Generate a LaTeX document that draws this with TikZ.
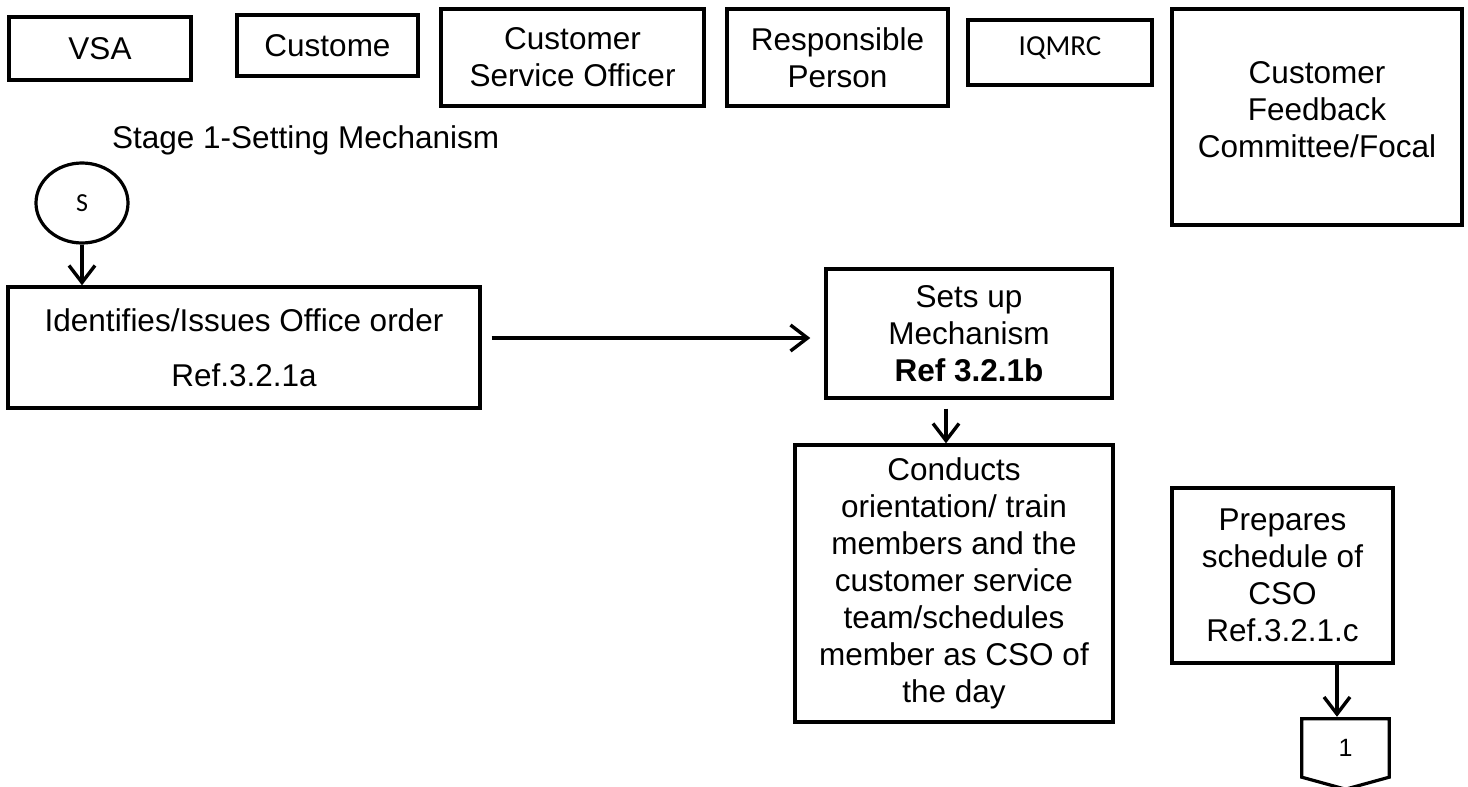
\documentclass[tikz,border=0pt]{standalone}
\usepackage{fontspec}
\setmainfont{Liberation Sans}
\newfontfamily\calfont{Carlito}
\usetikzlibrary{arrows.meta,shapes.geometric,calc}
\begin{document}
\begin{tikzpicture}[x=1pt,y=-1pt,
  box/.style={draw,line width=3.4pt,rectangle,inner sep=0pt,align=center,
              font=\fontsize{31.5}{37}\selectfont},
  lbl/.style={inner sep=0pt,align=center,font=\fontsize{31.5}{37}\selectfont},
  arr/.style={line width=3.4pt,-{Straight Barb[length=17pt,width=26pt,line width=3.4pt]}}]
\useasboundingbox (0,0) rectangle (1468,787);

% swimlane headers
\node[box,minimum width=182pt,minimum height=63pt] (vsa) at (100,48.5) {VSA};
\node[box,minimum width=181pt,minimum height=61pt] (cust) at (327.5,45.5) {Custome};
\node[box,minimum width=263pt,minimum height=97pt] (cso) at (572.5,57.5) {Customer\\Service Officer};
\node[box,minimum width=221pt,minimum height=97pt] (resp) at (837.5,57.5) {Responsible\\Person};
\node[box,minimum width=184pt,minimum height=65pt] (iqmrc) at (1060,52.5) {};
\node[inner sep=0pt,font=\calfont\fontsize{29}{34}\selectfont] (iqmrctext) at (1060,48) {IQMRC};
\node[box,minimum width=290pt,minimum height=216pt] (cfc) at (1317,117) {};
\node[lbl] (cfctext) at (1317,110) {Customer\\Feedback\\Committee/Focal};

% stage title
\node[lbl,anchor=base west] (stage) at (112,148) {Stage 1-Setting Mechanism};

% start symbol
\node[draw,ellipse,line width=3.2pt,inner sep=0pt,minimum width=92pt,minimum height=80pt,
      font=\calfont\fontsize{26}{30}\selectfont] (start) at (82,203) {S};

% process steps
\node[box,minimum width=472pt,minimum height=121pt] (idb) at (244,347.5)
  {Identifies/Issues Office order\\[18pt]Ref.3.2.1a};
\node[box,minimum width=286pt,minimum height=129pt] (sets) at (969,333.5)
  {Sets up\\Mechanism\\\textbf{Ref 3.2.1b}};
\node[box,minimum width=318pt,minimum height=277pt] (cond) at (954,583.5)
  {Conducts\\orientation/ train\\members and the\\customer service\\team/schedules\\member as CSO of\\the day};
\node[box,minimum width=221pt,minimum height=175pt] (prep) at (1282.5,575.5)
  {Prepares\\schedule of\\CSO\\Ref.3.2.1.c};

% off-page connector
\node[inner sep=0pt,minimum width=87pt,minimum height=58pt,
      font=\fontsize{25}{29}\selectfont] (pg) at (1345.5,748) {1};
\draw[line width=3.2pt,line join=miter] (pg.north west) -- (pg.north east) -- (pg.south east)
  -- ($(pg.south)+(0,12)$) -- (pg.south west) -- cycle;

% flow
\draw[arr] (start.south) -- (start.south |- idb.north);
\draw[arr] ([xshift=10pt,yshift=9.5pt]idb.east) -- ([xshift=-14pt,yshift=-4.5pt]sets.west);
\draw[arr] ([xshift=-23pt,yshift=-9pt]sets.south) -- ([xshift=-8pt]cond.north);
\draw[arr] ([xshift=54.5pt]prep.south) -- ([xshift=-8.5pt,yshift=2pt]pg.north);
\end{tikzpicture}
\end{document}
